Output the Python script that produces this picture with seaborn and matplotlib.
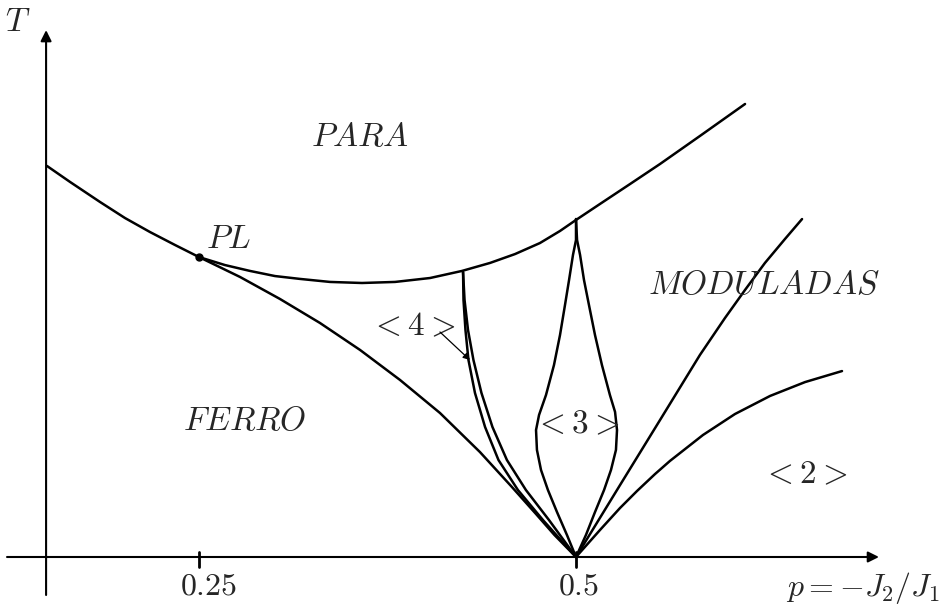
import matplotlib
matplotlib.use("Agg")
import matplotlib.pyplot as plt
import seaborn as sns
import pandas as pd

sns.set_theme(style="white")
plt.rcParams["mathtext.fontset"] = "cm"
plt.rcParams["font.family"] = ["DejaVu Sans"]

# Phase boundaries in the (p, T) plane, p = -J2/J1
para_p = [0.1492, 0.1645, 0.1844, 0.2009, 0.2175, 0.2341, 0.25, 0.2672, 0.2838, 0.3004,
          0.3170, 0.3369, 0.3581, 0.3800, 0.4032, 0.4244, 0.4430, 0.4596, 0.4761, 0.4894,
          0.5, 0.5159, 0.5358, 0.5557, 0.5822, 0.6121]
para_T = [0.2593, 0.2487, 0.2354, 0.2248, 0.2155, 0.2069, 0.1989, 0.1936, 0.1897, 0.1863,
          0.1844, 0.1824, 0.1817, 0.1824, 0.1850, 0.1897, 0.1950, 0.2009, 0.2082, 0.2162,
          0.2235, 0.2341, 0.2473, 0.2606, 0.2792, 0.3004]

ferro_p = [0.25, 0.2772, 0.3037, 0.3302, 0.3568, 0.3833, 0.4098, 0.4363, 0.4569, 0.4735,
           0.4857, 0.5]
ferro_T = [0.1989, 0.1857, 0.1711, 0.1552, 0.1373, 0.1174, 0.0955, 0.0696, 0.0471, 0.0285,
           0.0146, 0.0]

four_left_p = [0.4251, 0.4254, 0.4267, 0.4287, 0.4330, 0.4397, 0.4486, 0.4615, 0.4781, 0.5]
four_left_T = [0.1890, 0.1704, 0.1505, 0.1306, 0.1088, 0.0862, 0.0643, 0.0444, 0.0245, 0.0]
four_right_p = [0.4251, 0.4261, 0.4284, 0.4320, 0.4373, 0.4446, 0.4542, 0.4668, 0.4821, 0.5]
four_right_T = [0.1890, 0.1704, 0.1505, 0.1306, 0.1088, 0.0862, 0.0643, 0.0444, 0.0245, 0.0]

three_left_p = [0.5, 0.5, 0.4980, 0.4954, 0.4927, 0.4894, 0.4854, 0.4801, 0.4755, 0.4735,
                0.4741, 0.4768, 0.4814, 0.4874, 0.4940, 0.5]
three_left_T = [0.2241, 0.2102, 0.2003, 0.1837, 0.1671, 0.1472, 0.1273, 0.1074, 0.0942,
                0.0842, 0.0710, 0.0577, 0.0444, 0.0298, 0.0146, 0.0]
three_right_p = [0.5, 0.5007, 0.5027, 0.5053, 0.5086, 0.5126, 0.5172, 0.5225, 0.5259,
                 0.5272, 0.5265, 0.5232, 0.5186, 0.5126, 0.5066, 0.5]
three_right_T = [0.2241, 0.2102, 0.2003, 0.1837, 0.1671, 0.1472, 0.1273, 0.1074, 0.0962,
                 0.0842, 0.0710, 0.0577, 0.0444, 0.0298, 0.0146, 0.0]

mod_p = [0.5, 0.5292, 0.5557, 0.5822, 0.5988, 0.6121, 0.6253, 0.6386, 0.6499]
mod_T = [0.0, 0.0477, 0.0908, 0.1340, 0.1585, 0.1771, 0.1950, 0.2109, 0.2241]

two_p = [0.5, 0.5159, 0.5292, 0.5405, 0.5524, 0.5623, 0.5842, 0.6054, 0.6287, 0.6519, 0.6764]
two_T = [0.0, 0.0179, 0.0325, 0.0438, 0.0550, 0.0637, 0.0809, 0.0948, 0.1068, 0.1160, 0.1233]

lifshitz_point = (0.25, 0.1989)

tick_values = [0.25, 0.5]
tick_labels = ["$0.25$", "$0.5$"]

region_labels = ["$PARA$", "$FERRO$", "$<3>$", "$MODULADAS$", "$<2>$"]
region_p = [0.3565, 0.2804, 0.5007, 0.6243, 0.6515]
region_T = [0.2791, 0.0906, 0.0886, 0.1806, 0.0549]

fig = plt.figure(figsize=(9.46, 6.08), dpi=100)
ax = fig.add_axes([0, 0, 1, 1])
ax.set_xlim(0.11804, 0.74536)
ax.set_ylim(-0.03382, 0.36936)
ax.axis("off")

curves = [
    (para_p, para_T), (ferro_p, ferro_T),
    (four_left_p, four_left_T), (four_right_p, four_right_T),
    (three_left_p, three_left_T), (three_right_p, three_right_T),
    (mod_p, mod_T), (two_p, two_T),
]
for cp, cT in curves:
    df = pd.DataFrame({"p": cp, "T": cT})
    sns.lineplot(data=df, x="p", y="T", sort=False, estimator=None,
                 color="black", lw=1.8, ax=ax, legend=False)

ax.plot(*lifshitz_point, "o", color="black", ms=5)

# Axes with arrow heads
arrow = dict(arrowstyle="-|>", color="black", lw=1.5, mutation_scale=16,
             shrinkA=0, shrinkB=0)
ax.annotate("", xy=(0.7009, 0.0), xytext=(0.1227, 0.0), arrowprops=arrow)
ax.annotate("", xy=(0.1486, 0.3494), xytext=(0.1486, -0.0252), arrowprops=arrow)

fs = 24
for tv, tl in zip(tick_values, tick_labels):
    ax.plot([tv, tv], [-0.0066, 0.0033], color="black", lw=2)
    ax.text(tv + 0.0065 if tv < 0.3 else tv + 0.002, -0.0192, tl, fontsize=fs - 1,
            ha="center", va="center")

ax.text(0.1296, 0.3552, "$T$", fontsize=fs, ha="center", va="center")
ax.text(0.6905, -0.0205, "$p=-J_2/J_1$", fontsize=fs - 1, ha="center", va="center")
ax.text(0.2698, 0.2110, "$PL$", fontsize=fs, ha="center", va="center")
for lab, lp, lT in zip(region_labels, region_p, region_T):
    ax.text(lp, lT, lab, fontsize=fs, ha="center", va="center")

ax.text(0.3915, 0.1534, "$<4>$", fontsize=fs, ha="center", va="center")
ax.annotate("", xy=(0.4297, 0.1306), xytext=(0.4098, 0.1492),
            arrowprops=dict(arrowstyle="-|>", color="black", lw=0.9,
                            mutation_scale=10, shrinkA=0, shrinkB=0))

fig.savefig("out.png", dpi=100)
